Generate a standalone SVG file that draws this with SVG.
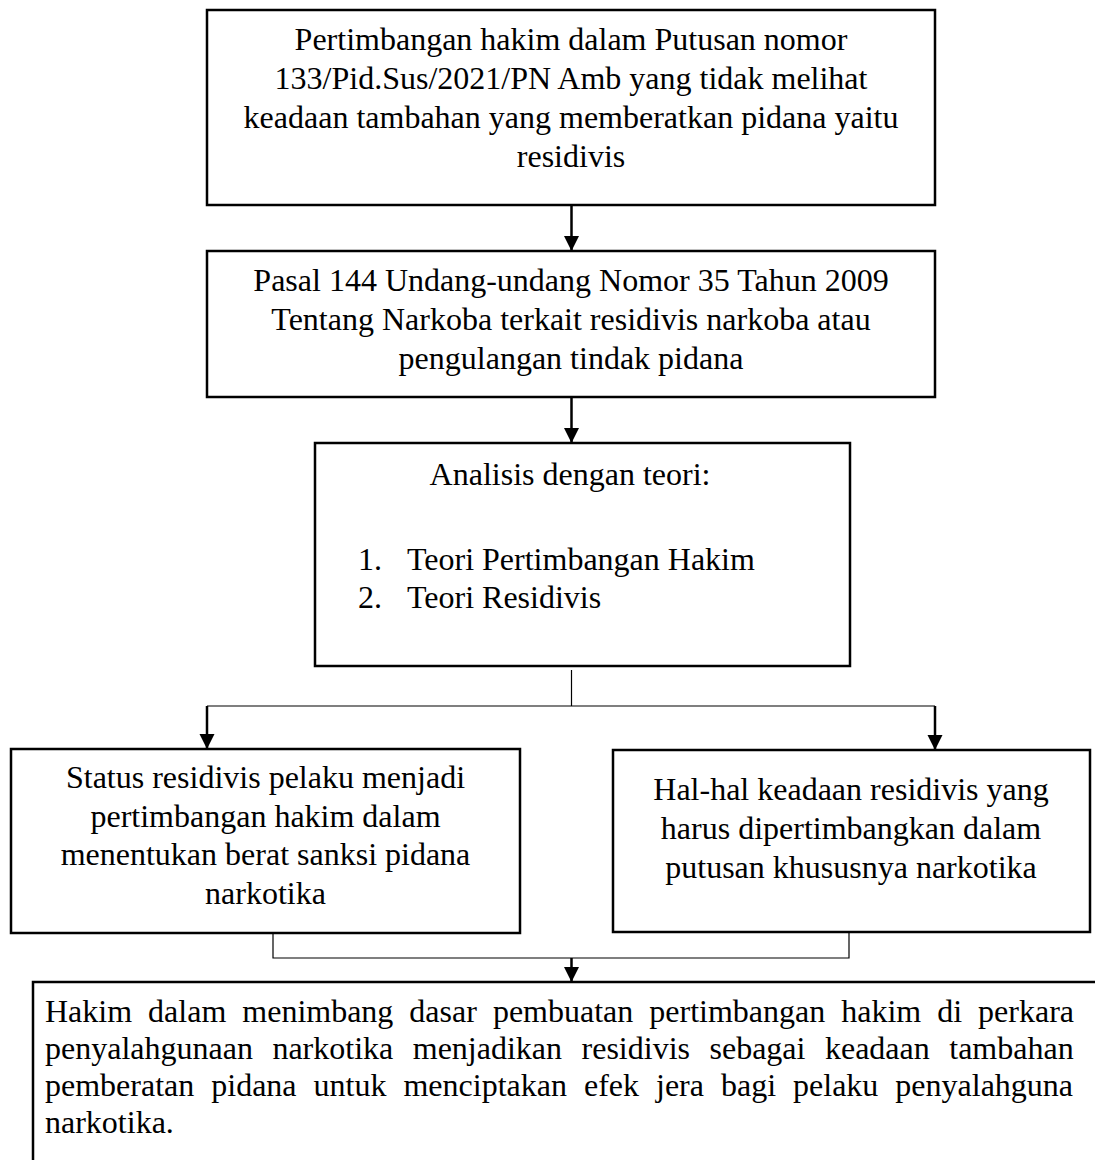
<svg xmlns="http://www.w3.org/2000/svg" width="1095" height="1160" viewBox="0 0 1095 1160">
<style>
.box{fill:#fff;stroke:#000;stroke-width:2.5}
.t{font-family:"Liberation Serif","Times New Roman",serif;font-size:32px;fill:#000}
.c{text-anchor:middle}
.arr{stroke:#000;stroke-width:2.5;fill:none}
.thin{stroke:#000;stroke-width:1.2;fill:none}
</style>
<defs>
<marker id="ah" markerUnits="userSpaceOnUse" markerWidth="16" markerHeight="16" refX="15" refY="7.5" orient="auto">
<path d="M0,0 L15,7.5 L0,15 z" fill="#000"/>
</marker>
</defs>
<rect width="1095" height="1160" fill="#fff"/>
<g id="connectors">
<line class="arr" x1="571.5" y1="205" x2="571.5" y2="251" marker-end="url(#ah)"/>
<line class="arr" x1="571.5" y1="397" x2="571.5" y2="443" marker-end="url(#ah)"/>
<polyline class="thin" points="571.5,670 571.5,706"/>
<line class="thin" x1="207" y1="706" x2="935" y2="706"/>
<line class="arr" x1="207" y1="706" x2="207" y2="749" marker-end="url(#ah)"/>
<line class="arr" x1="935" y1="706" x2="935" y2="750" marker-end="url(#ah)"/>
<polyline class="thin" points="273,933 273,958 849,958 849,932"/>
<line class="arr" x1="571.5" y1="958" x2="571.5" y2="982" marker-end="url(#ah)"/>
</g>
<g id="node1">
<rect class="box" x="207" y="10" width="728" height="195"/>
<text class="t c" x="571" y="50">Pertimbangan hakim dalam Putusan nomor</text>
<text class="t c" x="571" y="89">133/Pid.Sus/2021/PN Amb yang tidak melihat</text>
<text class="t c" x="571" y="128">keadaan tambahan yang memberatkan pidana yaitu</text>
<text class="t c" x="571" y="167">residivis</text>
</g>
<g id="node2">
<rect class="box" x="207" y="251" width="728" height="146"/>
<text class="t c" x="571" y="291">Pasal 144 Undang-undang Nomor 35 Tahun 2009</text>
<text class="t c" x="571" y="330">Tentang Narkoba terkait residivis narkoba atau</text>
<text class="t c" x="571" y="369">pengulangan tindak pidana</text>
</g>
<g id="node3">
<rect class="box" x="315" y="443" width="535" height="223"/>
<text class="t c" x="570" y="485">Analisis dengan teori:</text>
<text class="t" x="358" y="570">1.</text>
<text class="t" x="407" y="570">Teori Pertimbangan Hakim</text>
<text class="t" x="358" y="608">2.</text>
<text class="t" x="407" y="608">Teori Residivis</text>
</g>
<g id="node4">
<rect class="box" x="11" y="749" width="509" height="184"/>
<text class="t c" x="265.5" y="788">Status residivis pelaku menjadi</text>
<text class="t c" x="265.5" y="827">pertimbangan hakim dalam</text>
<text class="t c" x="265.5" y="865">menentukan berat sanksi pidana</text>
<text class="t c" x="265.5" y="904">narkotika</text>
</g>
<g id="node5">
<rect class="box" x="613" y="750" width="477" height="182"/>
<text class="t c" x="851" y="800">Hal-hal keadaan residivis yang</text>
<text class="t c" x="851" y="839">harus dipertimbangkan dalam</text>
<text class="t c" x="851" y="878">putusan khususnya narkotika</text>
</g>
<g id="node6">
<rect class="box" x="33" y="982" width="1100" height="300"/>
<text class="t" x="45" y="1022" word-spacing="8">Hakim dalam menimbang dasar pembuatan pertimbangan hakim di perkara</text>
<text class="t" x="45" y="1059" word-spacing="11.5">penyalahgunaan narkotika menjadikan residivis sebagai keadaan tambahan</text>
<text class="t" x="45" y="1096" word-spacing="9">pemberatan pidana untuk menciptakan efek jera bagi pelaku penyalahguna</text>
<text class="t" x="45" y="1133">narkotika.</text>
</g>
</svg>
